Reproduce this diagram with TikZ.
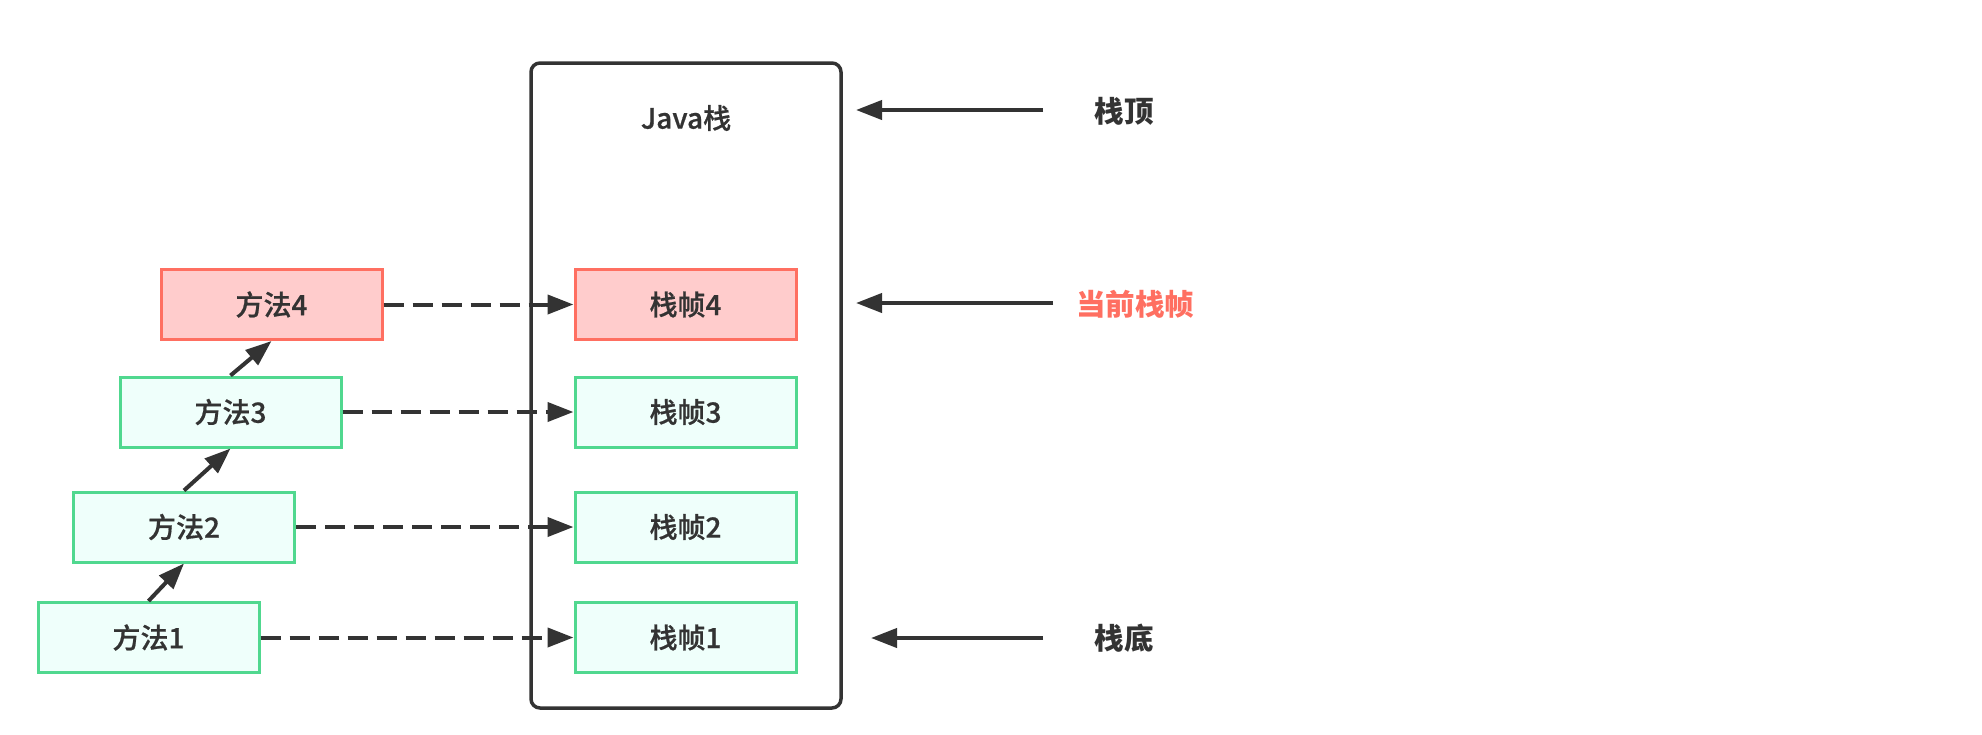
\documentclass[tikz,border=0pt]{standalone}
\usepackage{fontspec}
\setmainfont{Noto Sans CJK SC}
\newfontfamily\medfont{Noto Sans CJK SC}[UprightFont={* Medium},FakeBold=0.6]
\usetikzlibrary{arrows.meta}
\definecolor{ink}{HTML}{333333}
\definecolor{redline}{HTML}{FF6F61}
\definecolor{redfill}{HTML}{FFCCCC}
\definecolor{greenline}{HTML}{50D88F}
\definecolor{greenfill}{HTML}{EFFFFB}
\tikzset{
  box/.style={draw, line width=3pt, minimum width=221pt, minimum height=70pt, inner sep=0pt, text=ink, font=\medfont\fontsize{28}{32}\selectfont},
  redbox/.style={box, draw=redline, fill=redfill},
  greenbox/.style={box, draw=greenline, fill=greenfill},
  arr/.style={draw=ink, line width=4pt, -{Triangle[length=26pt,width=19pt]}},
  dasharr/.style={arr, dash pattern=on 20pt off 9pt},
  lbl/.style={text=ink, font=\bfseries\fontsize{29.5}{32}\selectfont, inner sep=0pt}
}
\begin{document}
\begin{tikzpicture}[x=1pt,y=-1pt]
\useasboundingbox (0,0) rectangle (1982,734);
\fill[white] (0,0) rectangle (1982,734);
% Java stack
\node[draw=ink, line width=3.5pt, rounded corners=9pt, minimum width=310pt, minimum height=645pt, inner sep=0pt] (java) at (686,385.5) {};
\node[text=ink, font=\medfont\fontsize{28}{32}\selectfont] (javalbl) at (686,118) {Java栈};
% frames
\node[redbox] (f4) at (685.5,304.5) {栈帧4};
\node[greenbox] (f3) at (685.5,412) {栈帧3};
\node[greenbox] (f2) at (685.5,527) {栈帧2};
\node[greenbox] (f1) at (685.5,637.5) {栈帧1};
% methods
\node[redbox] (m4) at (271.5,304.5) {方法4};
\node[greenbox] (m3) at (230.5,412) {方法3};
\node[greenbox] (m2) at (184,527) {方法2};
\node[greenbox] (m1) at (148.5,637.5) {方法1};
% call arrows
\draw[arr] (m1.north) -- (m2.south);
\draw[arr] (m2.north) -- (m3.south);
\draw[arr] (m3.north) -- (m4.south);
% dashed arrows
\draw[dasharr] (m4.east) -- (f4.west);
\draw[dasharr] (m3.east) -- (f3.west);
\draw[dasharr] (m2.east) -- (f2.west);
\draw[dasharr] (m1.east) -- (f1.west);
% right labels
\node[lbl] (top) at (1124,111) {栈顶};
\node[lbl, text=redline] (cur) at (1135,304) {当前栈帧};
\node[lbl] (bot) at (1124,638) {栈底};
\coordinate (topA) at (1043,110);
\coordinate (topB) at (856,110);
\coordinate (curA) at (1053,303);
\coordinate (curB) at (856,303);
\coordinate (botA) at (1043,638);
\coordinate (botB) at (871,638);
\draw[arr] (topA) -- (topB);
\draw[arr] (curA) -- (curB);
\draw[arr] (botA) -- (botB);
\end{tikzpicture}
\end{document}
